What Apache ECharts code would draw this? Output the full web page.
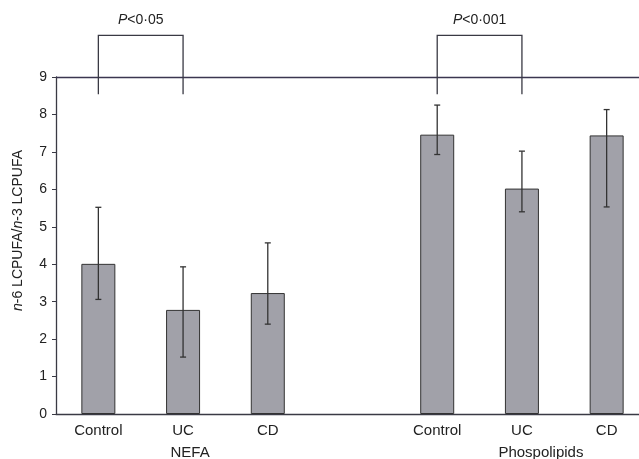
<!DOCTYPE html>
<html><head><meta charset="utf-8">
<script src="https://cdn.jsdelivr.net/npm/echarts@6/dist/echarts.min.js"></script>
<style>html,body{margin:0;padding:0;background:#fff}#c{width:639px;height:459px}</style>
</head><body><div id="c"></div>
<script>
var categories = ['Control', 'UC', 'CD', '', 'Control', 'UC', 'CD'];
var groupLabels = ['', 'NEFA', '', '', '', 'Phospolipids', ''];
var means = [4.01, 2.78, 3.23, null, 7.46, 6.02, 7.44];
var errLow = [3.06, 1.52, 2.40, null, 6.93, 5.40, 5.53];
var errHigh = [5.52, 3.93, 4.57, null, 8.25, 7.02, 8.13];
var brackets = [[0, 1, 8.54, 10.11, 'P', '<0·05'], [4, 5, 8.54, 10.11, 'P', '<0·001']];
var yTicks = [0, 1, 2, 3, 4, 5, 6, 7, 8, 9];

var font = '"Liberation Sans", Arial, sans-serif';
var ink = '#3a3a44';

var errData = [];
for (var i = 0; i < categories.length; i++) {
  if (means[i] != null) errData.push([i, errLow[i], errHigh[i]]);
}

var chart = echarts.init(document.getElementById('c'), null, {renderer: 'canvas'});
chart.setOption({
  animation: false,
  grid: {left: 56, top: 77, width: 593, height: 337, outerBoundsMode: 'none', containLabel: false},
  xAxis: [{
    type: 'category', data: categories, boundaryGap: true,
    axisLine: {lineStyle: {color: ink, width: 1.3}},
    axisTick: {inside: true, length: 4, lineStyle: {color: ink}},
    axisLabel: {color: '#222', fontFamily: font, fontSize: 15, margin: 9}
  }, {
    type: 'category', data: groupLabels, position: 'bottom', offset: 22,
    axisLine: {show: false}, axisTick: {show: false},
    axisLabel: {
      color: '#222', fontFamily: font, fontSize: 15, margin: 9, interval: 0,
      formatter: function (v) { return v === 'Phospolipids' ? '{s|' + v + '}' : (v ? '{n|' + v + '}' : ''); },
      rich: {
        s: {fontFamily: font, fontSize: 15, color: '#222', padding: [0, 0, 0, 38]},
        n: {fontFamily: font, fontSize: 15, color: '#222', padding: [0, 0, 0, 14]}
      }
    }
  }],
  yAxis: {
    type: 'value', min: 0, max: 9, interval: 1,
    axisLine: {show: true, lineStyle: {color: ink, width: 1.3}},
    axisTick: {show: true, length: 4, lineStyle: {color: ink}},
    splitLine: {show: false},
    axisLabel: {color: '#222', fontFamily: font, fontSize: 14, margin: 9,
      formatter: function (v) { return yTicks.indexOf(v) >= 0 ? String(v) : ''; }},
    name: '{i|n}-6 LCPUFA/{i|n}-3 LCPUFA', nameLocation: 'middle', nameGap: 31,
    nameTextStyle: {fontFamily: font, fontSize: 14, color: '#222', padding: [0, 0, 0, 30],
      rich: {i: {fontStyle: 'italic', fontFamily: font, fontSize: 14, color: '#222'}}}
  },
  series: [{
    type: 'bar', data: means, barWidth: 34,
    itemStyle: {color: '#a1a1a9', borderColor: '#333', borderWidth: 1},
    markLine: {silent: true, symbol: 'none', label: {show: false},
      lineStyle: {color: '#3b3650', width: 1.3, type: 'solid'},
      data: [{yAxis: 9}]}
  }, {
    type: 'custom', data: errData, z: 5,
    renderItem: function (params, api) {
      var x = api.value(0);
      var lo = api.coord([x, api.value(1)]);
      var hi = api.coord([x, api.value(2)]);
      var w = 3;
      var st = {stroke: '#333', lineWidth: 1.3};
      return {type: 'group', children: [
        {type: 'line', shape: {x1: lo[0], y1: lo[1], x2: hi[0], y2: hi[1]}, style: st},
        {type: 'line', shape: {x1: lo[0] - w, y1: lo[1], x2: lo[0] + w, y2: lo[1]}, style: st},
        {type: 'line', shape: {x1: hi[0] - w, y1: hi[1], x2: hi[0] + w, y2: hi[1]}, style: st}
      ]};
    }
  }, {
    type: 'custom', data: brackets, clip: false, z: 6,
    renderItem: function (params, api) {
      var a = api.value(0), b = api.value(1), lo = api.value(2), hi = api.value(3);
      var p1 = api.coord([a, lo]), p2 = api.coord([a, hi]);
      var p3 = api.coord([b, hi]), p4 = api.coord([b, lo]);
      var d = brackets[params.dataIndex];
      return {type: 'group', children: [
        {type: 'polyline', shape: {points: [p1, p2, p3, p4]},
          style: {stroke: '#3a3a44', lineWidth: 1.3, fill: null}},
        {type: 'text', x: (p2[0] + p3[0]) / 2, y: p2[1] - 15,
          style: {text: '{i|' + d[4] + '}' + d[5], align: 'center', verticalAlign: 'middle',
            fontFamily: font, fontSize: 14, fill: '#222',
            rich: {i: {fontStyle: 'italic', fontFamily: font, fontSize: 14, fill: '#222'}}}}
      ]};
    }
  }]
});
</script></body></html>
